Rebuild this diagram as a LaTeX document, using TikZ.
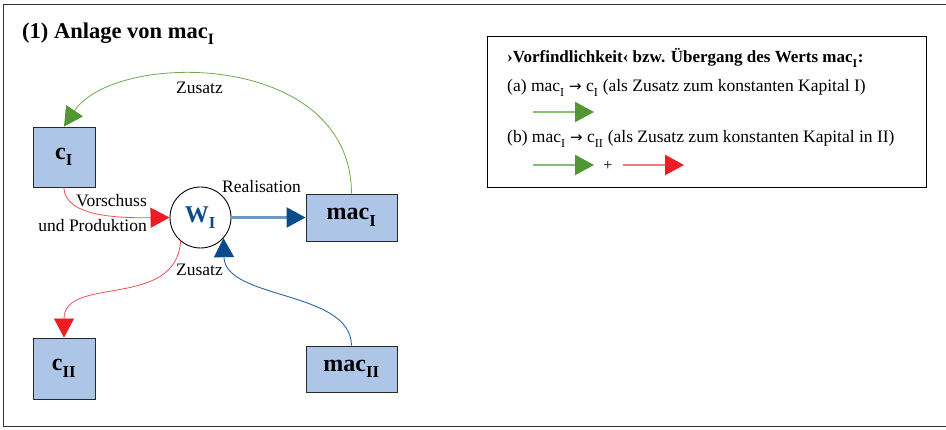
\documentclass[tikz,border=0pt]{standalone}
\usepackage{fontspec}
\setmainfont{Liberation Serif}
\newfontfamily\arrfont{DejaVu Sans}
\usetikzlibrary{arrows.meta}
\definecolor{boxfill}{RGB}{173,198,231}
\definecolor{boxdraw}{RGB}{40,40,40}
\definecolor{grn}{RGB}{80,150,50}
\definecolor{grnline}{RGB}{110,170,80}
\definecolor{grnlight}{RGB}{135,190,115}
\definecolor{rd}{RGB}{237,28,36}
\definecolor{rdline}{RGB}{240,80,90}
\definecolor{rdlight}{RGB}{242,120,125}
\definecolor{blu}{RGB}{10,75,140}
\definecolor{bluline}{RGB}{40,105,170}
\definecolor{blulight}{RGB}{110,155,195}
\newcommand{\sbI}[1]{\raisebox{-0.12em}{\textsubscript{#1}}}
\newcommand{\arr}{{\arrfont\fontsize{15}{17}\selectfont →}}
\tikzset{
  valbox/.style={draw=boxdraw, fill=boxfill, line width=0.9pt, inner sep=0pt, font=\fontsize{24}{27}\selectfont\bfseries},
  lbl/.style={font=\fontsize{17.5}{20}\selectfont, inner sep=0pt, anchor=base west},
  gtip/.style={-{Triangle[length=19pt,width=20pt,color=grn]}, draw=grnline, line width=0.8pt},
  rtip/.style={-{Triangle[length=19pt,width=20pt,color=rd]}, draw=rdline, line width=0.8pt},
  btip/.style={-{Triangle[length=19pt,width=20pt,color=blu]}, draw=bluline, line width=0.9pt},
  legendline/.style={line width=2.2pt},
}
\begin{document}
\begin{tikzpicture}[x=1pt,y=-1pt]
\useasboundingbox (0,0) rectangle (946,430);
\fill[white] (0,0) rectangle (946,430);
\draw[line width=1pt, draw=black!80] (960,5) -- (3.5,5) -- (3.5,427) -- (960,427);
% title
\node[lbl, font=\fontsize{22.5}{25}\selectfont\bfseries] (title) at (22,39) {(1) Anlage von mac\sbI{I}};
% boxes
\node[valbox, minimum width=62pt, minimum height=60pt] (cI) at (64,157) {c\sbI{I}};
\node[valbox, minimum width=62pt, minimum height=61pt] (cII) at (64,368.5) {c\sbI{II}};
\node[valbox, minimum width=91pt, minimum height=47pt] (macI) at (351.5,217.5) {mac\sbI{I}};
\node[valbox, minimum width=91pt, minimum height=46pt] (macII) at (351.5,369) {mac\sbI{II}};
\node[draw=black, circle, line width=0.9pt, fill=white, minimum size=61pt, inner sep=0pt, text=blu, font=\fontsize{24}{27}\selectfont\bfseries] (W) at (200.5,217.5) {W\sbI{I}};
% connectors
\draw[gtip] (macI.north) .. controls (351,50) and (115,50) .. (cI.north);
\draw[rtip] (cI.south) .. controls (64,218) and (125,218) .. (W.west);
\draw[btip, draw=blulight, legendline] (W.east) -- (macI.west);
\draw[rtip] (W.230) .. controls (176,310) and (64,275) .. (cII.north);
\draw[btip] (macII.north) .. controls (351,290) and (225,300) .. (W.-42);
% labels
\node[lbl] (l1) at (176,94) {Zusatz};
\node[lbl] (l2) at (222,193) {Realisation};
\node[lbl, anchor=base east] (l3) at (147,207) {Vorschuss};
\node[lbl, anchor=base east] (l4) at (147,232) {und Produktion};
\node[lbl] (l5) at (176,276) {Zusatz};
% legend
\node[draw=black, line width=0.9pt, minimum width=439pt, minimum height=151pt, inner sep=0pt, anchor=north west] (leg) at (487,36) {};
\node[lbl, font=\fontsize{17}{20}\selectfont\bfseries] (h) at (507,63) {›Vorfindlichkeit‹ bzw. Übergang des Werts mac\sbI{I}:};
\node[lbl] (a) at (507,92) {(a) mac\sbI{I} \arr{} c\sbI{I} (als Zusatz zum konstanten Kapital I)};
\coordinate (a1) at (533,112);
\coordinate (a2) at (594,112);
\draw[gtip, draw=grnlight, legendline] (a1) -- (a2);
\node[lbl] (b) at (507,143) {(b) mac\sbI{I} \arr{} c\sbI{II} (als Zusatz zum konstanten Kapital in II)};
\coordinate (b1) at (533,165);
\coordinate (b2) at (594,165);
\draw[gtip, draw=grnlight, legendline] (b1) -- (b2);
\node[font=\fontsize{16}{18}\selectfont, inner sep=0pt] (plus) at (608,166) {+};
\coordinate (c1) at (623,165);
\coordinate (c2) at (684,165);
\draw[rtip, draw=rdlight, legendline] (c1) -- (c2);
\end{tikzpicture}
\end{document}
